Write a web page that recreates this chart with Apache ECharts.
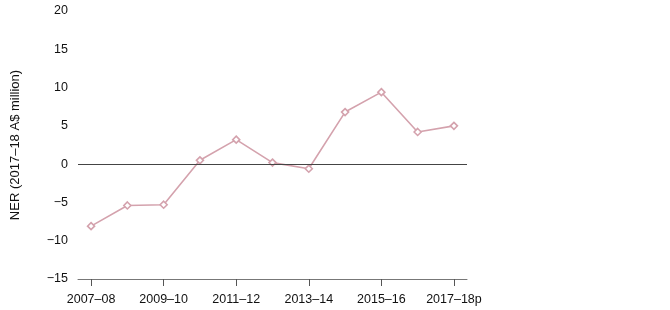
<!DOCTYPE html>
<html><head><meta charset="utf-8">
<script src="https://cdn.jsdelivr.net/npm/echarts@6/dist/echarts.min.js"></script>
<style>html,body{margin:0;padding:0;background:#fff}#c{width:670px;height:310px}</style>
</head><body><div id="c"></div>
<script>
const categories = ['2007–08','2008–09','2009–10','2010–11','2011–12','2012–13','2013–14','2014–15','2015–16','2016–17','2017–18p'];
const nerValues = [-8.1, -5.4, -5.3, 0.5, 3.2, 0.2, -0.6, 6.8, 9.4, 4.2, 5.0];
const yTicks = [-15, -10, -5, 0, 5, 10, 15, 20];
const labelIdx = [0, 2, 4, 6, 8, 10];

const chart = echarts.init(document.getElementById('c'));
chart.setOption({
  animation: false,
  grid: { left: 78, right: 203, top: 11, bottom: 31 },
  xAxis: {
    type: 'value', min: -0.36, max: categories.length - 1 + 0.36,
    axisLine: { show: true, onZero: false, lineStyle: { color: '#777', width: 1 } },
    axisTick: { show: true, length: 7, lineStyle: { color: '#555' }, customValues: labelIdx },
    axisLabel: { customValues: labelIdx, formatter: v => categories[Math.round(v)], color: '#111', fontSize: 12.5, fontFamily: 'Liberation Sans, Arial', margin: 14 },
    splitLine: { show: false }
  },
  yAxis: {
    type: 'value', min: yTicks[0], max: yTicks[yTicks.length - 1], interval: 5,
    name: 'NER (2017–18 A$ million)', nameLocation: 'middle', nameGap: 56,
    nameTextStyle: { color: '#111', fontSize: 13, fontFamily: 'Liberation Sans, Arial' },
    axisLine: { show: false }, axisTick: { show: false },
    axisLabel: { color: '#111', fontSize: 12.5, fontFamily: 'Liberation Sans, Arial', margin: 10, formatter: v => String(v).replace('-', '−') },
    splitLine: { show: false }
  },
  series: [{
    type: 'line',
    data: nerValues.map((v, i) => [i, v]),
    symbol: 'diamond', symbolSize: 7,
    itemStyle: { color: '#fff', borderColor: '#d4a2ad', borderWidth: 1.6 },
    lineStyle: { color: '#d4a2ad', width: 1.6 },
    markLine: {
      silent: true, symbol: 'none', label: { show: false },
      lineStyle: { color: '#444', type: 'solid', width: 1 },
      data: [{ yAxis: 0 }]
    },
    z: 3
  }]
});
</script></body></html>
